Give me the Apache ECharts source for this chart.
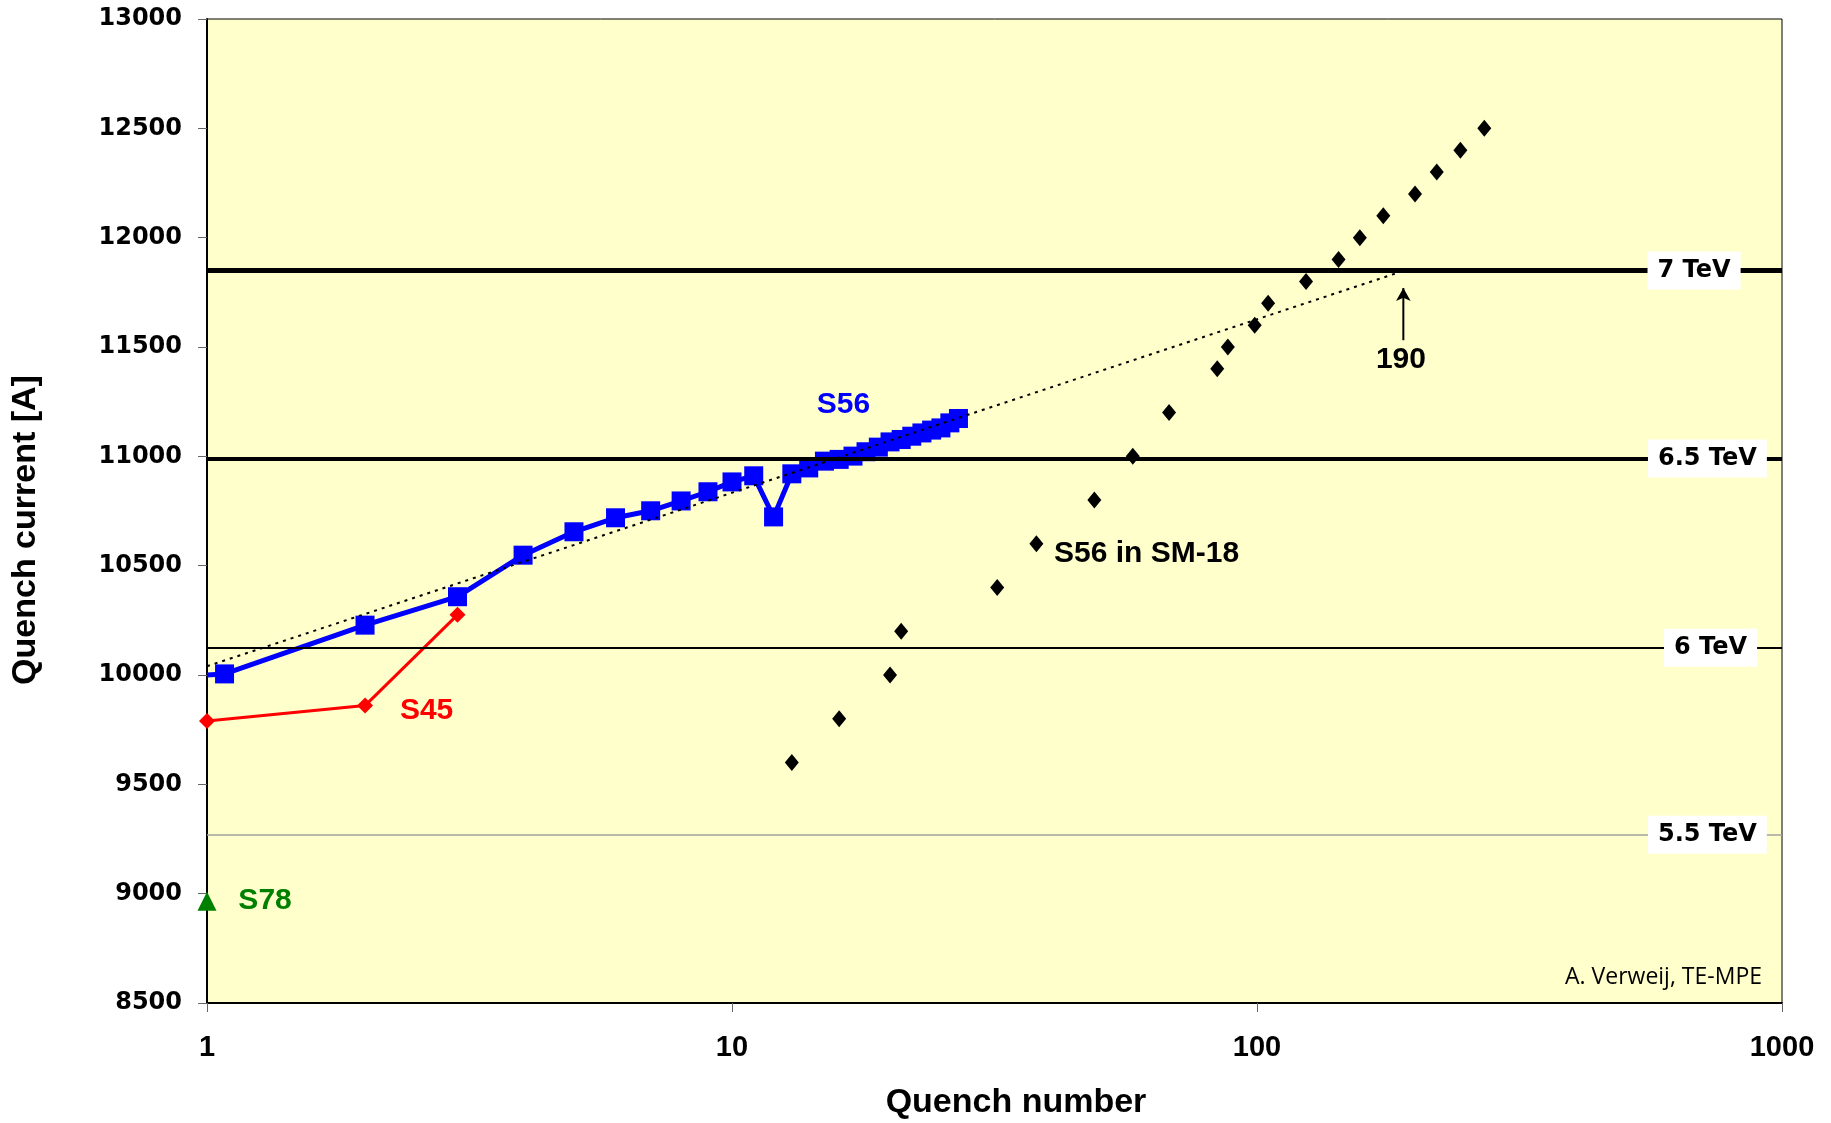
<!DOCTYPE html>
<html>
<head>
<meta charset="utf-8">
<title>Quench current vs quench number</title>
<script src="https://cdn.jsdelivr.net/npm/echarts@6/dist/echarts.min.js"></script>
<style>
  html, body { margin: 0; padding: 0; background: #fff; }
  #chart { width: 1831px; height: 1123px; }
</style>
</head>
<body>
<div id="chart"></div>
<script>
// S56 training quenches in the tunnel
const s56Quench = [1, 1.08, 2, 3, 4, 5, 6, 7, 8, 9, 10, 11, 12, 13, 14, 15, 16, 17, 18, 19, 20, 21, 22, 23, 24, 25, 26, 27]
const s56Current = [10000, 10005, 10228, 10358, 10548, 10655, 10719, 10751, 10796, 10838, 10883, 10911, 10723, 10920,
  10947, 10978, 10986, 11001, 11021, 11042, 11066, 11077, 11092, 11107, 11120, 11130, 11153, 11173]

// S45 and S78
const s45Quench = [1, 2, 3]
const s45Current = [9790, 9860, 10275]
const s78Quench = [1]
const s78Current = [8965]

// S56 magnets tested in SM-18
const sm18Quench = [13, 16, 20, 21, 32, 38, 49, 58, 68, 84, 88, 99, 105, 124, 143, 157, 174, 200, 220, 244, 271]
const sm18Current = [9600, 9800, 10000, 10200, 10400, 10600, 10800, 11000, 11200, 11400, 11500, 11600, 11700, 11800,
  11900, 12000, 12100, 12200, 12300, 12400, 12500]

// log fit of S56, extrapolated up to 7 TeV
const fitQuench = [1, 183]
const fitCurrent = [10040, 11835]
const arrowQuench = [190, 190]
const arrowCurrent = [11531, 11770]

// beam energy levels
const levelNames = ['7 TeV', '6.5 TeV', '6 TeV', '5.5 TeV']
const levelCurrent = [11850, 10990, 10125, 9270]

const zip = (xs, ys) => xs.map((x, i) => [x, ys[i]])

const boldFont = 'Liberation Sans'
const wideFont = 'DejaVu Sans'

const note = (name, coord, color) => ({
  name,
  coord,
  label: { color }
})

const notes = (items) => ({
  symbol: 'circle',
  symbolSize: 0,
  silent: true,
  label: {
    show: true,
    position: 'inside',
    formatter: '{b}',
    fontFamily: boldFont,
    fontWeight: 'bold',
    fontSize: 30
  },
  data: items
})

const levelLines = [
  { yAxis: levelCurrent[0], lineStyle: { width: 5, color: '#000', type: 'solid' } },
  { yAxis: levelCurrent[1], lineStyle: { width: 4, color: '#000', type: 'solid' } },
  { yAxis: levelCurrent[2], lineStyle: { width: 2, color: '#000', type: 'solid' } },
  { yAxis: levelCurrent[3], lineStyle: { width: 1.5, color: '#a0a0a0', type: 'solid' } }
]
// where the white level boxes sit along the x axis
const levelLabelAt = [680, 721, 731, 721]

const chart = echarts.init(document.getElementById('chart'))

const option = {
  animation: false,
  backgroundColor: '#fff',
  textStyle: { fontFamily: boldFont },
  grid: {
    left: 207,
    right: 49,
    top: 19,
    bottom: 120,
    show: true,
    backgroundColor: '#FFFFCC',
    borderColor: '#000',
    borderWidth: 1
  },
  xAxis: {
    type: 'log',
    logBase: 10,
    min: 1,
    max: 1000,
    axisLine: { show: true, lineStyle: { color: '#000', width: 2 } },
    axisTick: { show: true, length: 9, lineStyle: { color: '#666' } },
    minorTick: { show: false },
    splitLine: { show: false },
    axisLabel: {
      color: '#000',
      fontFamily: boldFont,
      fontWeight: 'bold',
      fontSize: 29,
      margin: 30,
      formatter: (v) => String(Math.round(v))
    }
  },
  yAxis: {
    type: 'value',
    min: 8500,
    max: 13000,
    interval: 500,
    axisLine: { show: true, lineStyle: { color: '#000', width: 2 } },
    axisTick: { show: true, length: 9, lineStyle: { color: '#666' } },
    splitLine: { show: false },
    axisLabel: {
      color: '#000',
      fontFamily: wideFont,
      fontWeight: 'bold',
      fontSize: 24,
      margin: 25,
      formatter: (v) => String(v)
    }
  },
  graphic: [
    {
      type: 'text',
      x: 26,
      y: 530,
      rotation: Math.PI / 2,
      style: { text: 'Quench current [A]', font: 'bold 34px "Liberation Sans"', fill: '#000', align: 'center', verticalAlign: 'middle' }
    },
    {
      type: 'text',
      x: 1016,
      y: 1103,
      style: { text: 'Quench number', font: 'bold 34px "Liberation Sans"', fill: '#000', align: 'center', verticalAlign: 'middle' }
    },
    {
      type: 'text',
      x: 1762,
      y: 977,
      style: { text: 'A. Verweij, TE-MPE', font: '23px "Open Sans"', fill: '#000', align: 'right', verticalAlign: 'middle' }
    }
  ],
  series: [
    {
      name: 'levels',
      type: 'scatter',
      z: 1,
      data: [],
      markLine: {
        silent: true,
        symbol: ['none', 'none'],
        label: { show: false },
        data: levelLines
      },
      markPoint: {
        symbol: 'circle',
        symbolSize: 0,
        silent: true,
        label: {
          show: true,
          position: 'inside',
          formatter: '{b}',
          color: '#000',
          fontFamily: wideFont,
          fontWeight: 'bold',
          fontSize: 24,
          backgroundColor: '#fff',
          padding: [7, 10]
        },
        data: levelNames.map((n, i) => ({ name: n, coord: [levelLabelAt[i], levelCurrent[i]] }))
      }
    },
    {
      name: 'S45',
      type: 'line',
      z: 3,
      data: zip(s45Quench, s45Current),
      symbol: 'diamond',
      symbolSize: 16,
      itemStyle: { color: '#FF0000', opacity: 1 },
      lineStyle: { color: '#FF0000', width: 3 },
      markPoint: notes([note('S45', [2.62, 9835], '#FF0000')])
    },
    {
      name: 'S56',
      type: 'line',
      z: 4,
      data: zip(s56Quench, s56Current).map((p, i) => (i === 0 ? { value: p, symbol: 'none' } : p)),
      symbol: 'rect',
      symbolSize: 19,
      itemStyle: { color: '#0000FF', opacity: 1 },
      lineStyle: { color: '#0000FF', width: 5 },
      markPoint: notes([note('S56', [16.3, 11238], '#0000FF')])
    },
    {
      name: 'S78',
      type: 'scatter',
      z: 3,
      data: zip(s78Quench, s78Current),
      symbol: 'triangle',
      symbolSize: 19,
      itemStyle: { color: '#008000', opacity: 1 },
      markPoint: notes([note('S78', [1.29, 8966], '#008000')])
    },
    {
      name: 'S56 in SM-18',
      type: 'scatter',
      z: 3,
      data: zip(sm18Quench, sm18Current),
      symbol: 'diamond',
      symbolSize: [14, 17],
      itemStyle: { color: '#000', opacity: 1 },
      markPoint: notes([note('S56 in SM-18', [61.6, 10556], '#000'), note('190', [188, 11440], '#000')])
    },
    {
      name: 'fit',
      type: 'line',
      z: 6,
      data: zip(fitQuench, fitCurrent),
      symbol: 'none',
      lineStyle: { color: '#000', width: 2, type: [3, 5] }
    },
    {
      name: 'arrow',
      type: 'line',
      z: 6,
      data: zip(arrowQuench, arrowCurrent).map((p, i) => (i === 0 ? { value: p, symbol: 'none' } : p)),
      symbol: 'arrow',
      symbolSize: [11, 13],
      itemStyle: { color: '#000', opacity: 1 },
      lineStyle: { color: '#000', width: 2 }
    }
  ]
}

chart.setOption(option)
</script>
</body>
</html>
